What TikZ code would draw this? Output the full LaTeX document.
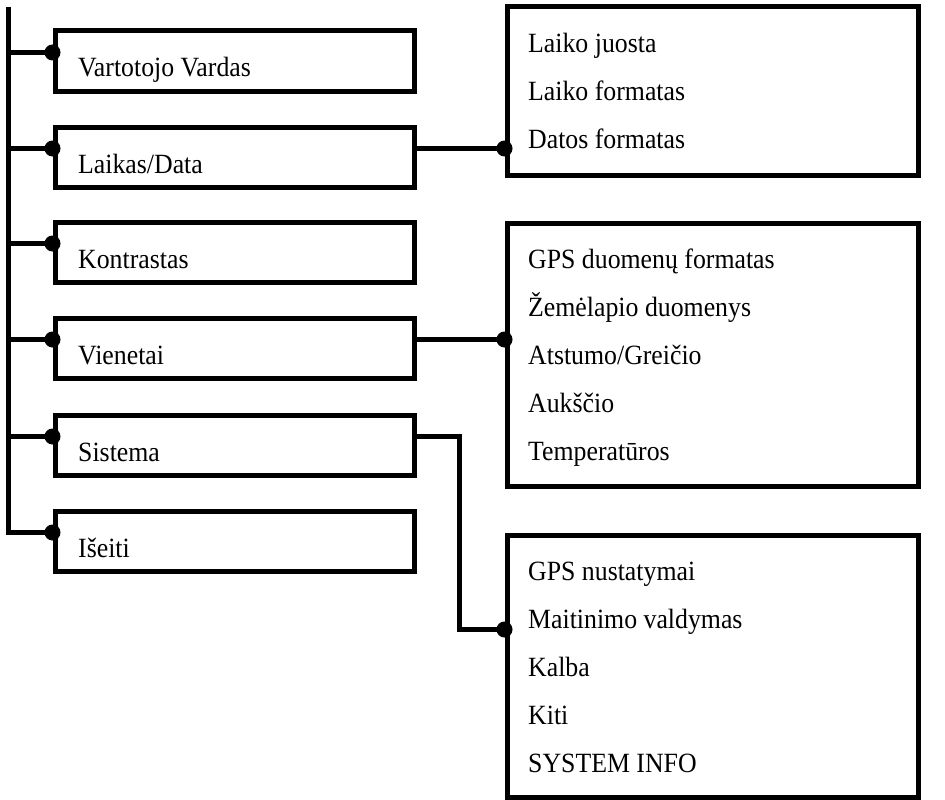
\documentclass[tikz,border=0pt]{standalone}
\usepackage{fontspec}
\usepackage{graphicx}
\setmainfont{Liberation Serif}
\usetikzlibrary{calc}
\newcommand\tx[1]{\scalebox{1}[1.08]{#1}}
\begin{document}
\begin{tikzpicture}[x=1pt,y=-1pt,
  box/.style={draw, line width=5pt, inner sep=0pt, minimum width=359pt, minimum height=60pt},
  pane/.style={draw, line width=5pt, inner sep=0pt, minimum width=411pt},
  lbl/.style={anchor=base west, inner sep=0pt, font=\fontsize{25.8}{30}\selectfont},
  wire/.style={line width=5pt},
  dotc/.style={fill=black}]
\useasboundingbox (0,0) rectangle (945,800);
% left menu boxes
\node[box] (b1) at (234.5,61) {};
\node[box] (b2) at (234.5,157) {};
\node[box] (b3) at (234.5,252) {};
\node[box] (b4) at (234.5,348) {};
\node[box] (b5) at (234.5,445) {};
\node[box] (b6) at (234.5,541) {};
% right panes
\node[pane, minimum height=168pt] (A) at (712.5,91) {};
\node[pane, minimum height=263pt] (B) at (712.5,354.5) {};
\node[pane, minimum height=262pt] (C) at (712.5,666) {};
% connection points
\foreach \i in {1,...,6}{\coordinate (p\i) at ($(b\i.north west)+(0,24)$);}
\coordinate (top) at (8,7);
\coordinate (qA) at (A.west |- p2);
\coordinate (qB) at (B.west |- p4);
\coordinate (qC) at ($(C.north west)+(0,97)$);
\coordinate (k) at ($(qC)+(-45,0)$);
% wires
\draw[wire] (top) -- (top |- p6) -- (p6);
\foreach \i in {1,...,5}{\draw[wire] (top |- p\i) -- (p\i);}
\draw[wire] (b2.east |- p2) -- (qA);
\draw[wire] (b4.east |- p4) -- (qB);
\draw[wire] (b5.east |- p5) -| (k) -- (qC);
\foreach \p in {p1,p2,p3,p4,p5,p6,qA,qB,qC}{\fill[dotc] (\p) circle[radius=8pt];}
% left labels
\node[lbl] (t1) at (78,77) {\tx{Vartotojo Vardas}};
\node[lbl] (t2) at (78,173) {\tx{Laikas/Data}};
\node[lbl] (t3) at (78,268) {\tx{Kontrastas}};
\node[lbl] (t4) at (78,364) {\tx{Vienetai}};
\node[lbl] (t5) at (78,461) {\tx{Sistema}};
\node[lbl] (t6) at (78,557) {\tx{Išeiti}};
% pane A
\node[lbl] (a1) at (528,53) {\tx{Laiko juosta}};
\node[lbl] (a2) at (528,100.5) {\tx{Laiko formatas}};
\node[lbl] (a3) at (528,148) {\tx{Datos formatas}};
% pane B
\node[lbl] (c1) at (528,268) {\tx{GPS duomenų formatas}};
\node[lbl] (c2) at (528,316) {\tx{Žemėlapio duomenys}};
\node[lbl] (c3) at (528,364) {\tx{Atstumo/Greičio}};
\node[lbl] (c4) at (528,412) {\tx{Aukščio}};
\node[lbl] (c5) at (528,460) {\tx{Temperatūros}};
% pane C
\node[lbl] (d1) at (528,580) {\tx{GPS nustatymai}};
\node[lbl] (d2) at (528,628) {\tx{Maitinimo valdymas}};
\node[lbl] (d3) at (528,676) {\tx{Kalba}};
\node[lbl] (d4) at (528,724) {\tx{Kiti}};
\node[lbl] (d5) at (528,772) {\tx{SYSTEM INFO}};
\end{tikzpicture}
\end{document}
